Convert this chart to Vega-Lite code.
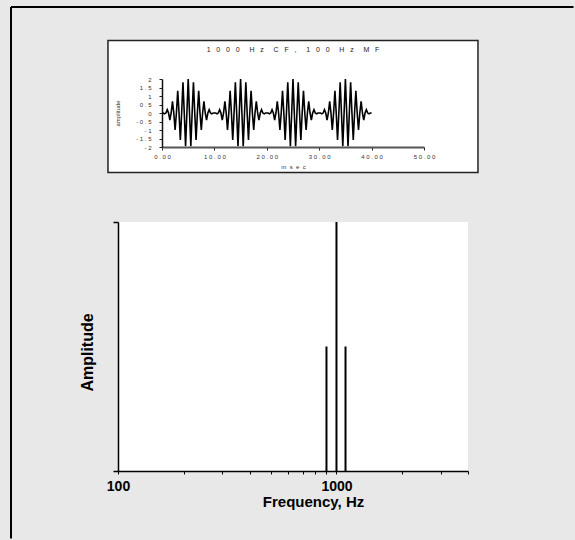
{
  "$schema": "https://vega.github.io/schema/vega-lite/v6.json",
  "background": "#e8e8e8",
  "padding": {"left": 10, "top": 6, "right": 0, "bottom": 0},
  "bounds": "flush",
  "center": true,
  "spacing": 75,
  "config": {"font": "Liberation Sans", "view": {"stroke": null}},
  "datasets": {
    "wave": [
      {"t":0,"a":0},{"t":0.25,"a":0},{"t":0.5,"a":-0.0489},{"t":0.75,"a":0},{"t":1,"a":0.191},{"t":1.25,"a":0},{"t":1.5,"a":-0.4122},{"t":1.75,"a":0},{"t":2,"a":0.691},{"t":2.25,"a":0},{"t":2.5,"a":-1},{"t":2.75,"a":0},{"t":3,"a":1.309},{"t":3.25,"a":0},{"t":3.5,"a":-1.5878},{"t":3.75,"a":0},{"t":4,"a":1.809},{"t":4.25,"a":0},{"t":4.5,"a":-1.9511},{"t":4.75,"a":0},{"t":5,"a":2},{"t":5.25,"a":0},{"t":5.5,"a":-1.9511},{"t":5.75,"a":0},{"t":6,"a":1.809},{"t":6.25,"a":0},{"t":6.5,"a":-1.5878},{"t":6.75,"a":0},{"t":7,"a":1.309},{"t":7.25,"a":0},{"t":7.5,"a":-1},{"t":7.75,"a":0},{"t":8,"a":0.691},{"t":8.25,"a":0},{"t":8.5,"a":-0.4122},{"t":8.75,"a":0},{"t":9,"a":0.191},{"t":9.25,"a":0},{"t":9.5,"a":-0.0489},{"t":9.75,"a":0},
      {"t":10,"a":0},{"t":10.25,"a":0},{"t":10.5,"a":-0.0489},{"t":10.75,"a":0},{"t":11,"a":0.191},{"t":11.25,"a":0},{"t":11.5,"a":-0.4122},{"t":11.75,"a":0},{"t":12,"a":0.691},{"t":12.25,"a":0},{"t":12.5,"a":-1},{"t":12.75,"a":0},{"t":13,"a":1.309},{"t":13.25,"a":0},{"t":13.5,"a":-1.5878},{"t":13.75,"a":0},{"t":14,"a":1.809},{"t":14.25,"a":0},{"t":14.5,"a":-1.9511},{"t":14.75,"a":0},{"t":15,"a":2},{"t":15.25,"a":0},{"t":15.5,"a":-1.9511},{"t":15.75,"a":0},{"t":16,"a":1.809},{"t":16.25,"a":0},{"t":16.5,"a":-1.5878},{"t":16.75,"a":0},{"t":17,"a":1.309},{"t":17.25,"a":0},{"t":17.5,"a":-1},{"t":17.75,"a":0},{"t":18,"a":0.691},{"t":18.25,"a":0},{"t":18.5,"a":-0.4122},{"t":18.75,"a":0},{"t":19,"a":0.191},{"t":19.25,"a":0},{"t":19.5,"a":-0.0489},{"t":19.75,"a":0},
      {"t":20,"a":0},{"t":20.25,"a":0},{"t":20.5,"a":-0.0489},{"t":20.75,"a":0},{"t":21,"a":0.191},{"t":21.25,"a":0},{"t":21.5,"a":-0.4122},{"t":21.75,"a":0},{"t":22,"a":0.691},{"t":22.25,"a":0},{"t":22.5,"a":-1},{"t":22.75,"a":0},{"t":23,"a":1.309},{"t":23.25,"a":0},{"t":23.5,"a":-1.5878},{"t":23.75,"a":0},{"t":24,"a":1.809},{"t":24.25,"a":0},{"t":24.5,"a":-1.9511},{"t":24.75,"a":0},{"t":25,"a":2},{"t":25.25,"a":0},{"t":25.5,"a":-1.9511},{"t":25.75,"a":0},{"t":26,"a":1.809},{"t":26.25,"a":0},{"t":26.5,"a":-1.5878},{"t":26.75,"a":0},{"t":27,"a":1.309},{"t":27.25,"a":0},{"t":27.5,"a":-1},{"t":27.75,"a":0},{"t":28,"a":0.691},{"t":28.25,"a":0},{"t":28.5,"a":-0.4122},{"t":28.75,"a":0},{"t":29,"a":0.191},{"t":29.25,"a":0},{"t":29.5,"a":-0.0489},{"t":29.75,"a":0},
      {"t":30,"a":0},{"t":30.25,"a":0},{"t":30.5,"a":-0.0489},{"t":30.75,"a":0},{"t":31,"a":0.191},{"t":31.25,"a":0},{"t":31.5,"a":-0.4122},{"t":31.75,"a":0},{"t":32,"a":0.691},{"t":32.25,"a":0},{"t":32.5,"a":-1},{"t":32.75,"a":0},{"t":33,"a":1.309},{"t":33.25,"a":0},{"t":33.5,"a":-1.5878},{"t":33.75,"a":0},{"t":34,"a":1.809},{"t":34.25,"a":0},{"t":34.5,"a":-1.9511},{"t":34.75,"a":0},{"t":35,"a":2},{"t":35.25,"a":0},{"t":35.5,"a":-1.9511},{"t":35.75,"a":0},{"t":36,"a":1.809},{"t":36.25,"a":0},{"t":36.5,"a":-1.5878},{"t":36.75,"a":0},{"t":37,"a":1.309},{"t":37.25,"a":0},{"t":37.5,"a":-1},{"t":37.75,"a":0},{"t":38,"a":0.691},{"t":38.25,"a":0},{"t":38.5,"a":-0.4122},{"t":38.75,"a":0},{"t":39,"a":0.191},{"t":39.25,"a":0},{"t":39.5,"a":-0.0489},{"t":39.75,"a":0},
      {"t":40,"a":0}
    ],
    "spec": [
      {"freq": 900, "amp": 0.5},
      {"freq": 1000, "amp": 1},
      {"freq": 1100, "amp": 0.5}
    ]
  },
  "vconcat": [
    {
      "width": 262,
      "height": 68,
      "title": {
        "text": "1\u00a0\u00a0\u00a00\u00a0\u00a0\u00a00\u00a0\u00a0\u00a00\u00a0\u00a0\u00a0\u00a0\u00a0H\u00a0\u00a0\u00a0z\u00a0\u00a0\u00a0\u00a0\u00a0C\u00a0\u00a0\u00a0F\u00a0\u00a0\u00a0,\u00a0\u00a0\u00a0\u00a0\u00a01\u00a0\u00a0\u00a00\u00a0\u00a0\u00a00\u00a0\u00a0\u00a0\u00a0\u00a0H\u00a0\u00a0\u00a0z\u00a0\u00a0\u00a0\u00a0\u00a0M\u00a0\u00a0\u00a0F",
        "fontSize": 7,
        "fontWeight": "normal",
        "color": "#222",
        "anchor": "middle",
        "frame": "group",
        "baseline": "alphabetic",
        "offset": -19
      },
      "layer": [
        {
          "data": {"values": [{}]},
          "mark": {"type": "rect", "fill": "white", "stroke": "#222", "strokeWidth": 1.5},
          "encoding": {
            "x": {
              "datum": -10.31, "type": "quantitative", "title": "m\u00a0\u00a0s\u00a0\u00a0e\u00a0\u00a0c",
              "scale": {"domain": [0, 50], "nice": false, "zero": false},
              "axis": {
                "title": "m\u00a0\u00a0s\u00a0\u00a0e\u00a0\u00a0c",
                "values": [0, 10, 20, 30, 40, 50],
                "labelExpr": "join(split(format(datum.value, '.2f'), ''), ' ')",
                "labelFontSize": 6, "labelColor": "#333", "labelPadding": 3,
                "labelFlush": false, "labelOverlap": false,
                "tickSize": 3, "tickColor": "#222", "tickWidth": 1,
                "domainColor": "#555", "domainWidth": 2,
                "titleFontSize": 6, "titleFontWeight": "normal", "titleColor": "#333", "titlePadding": 4,
                "grid": false, "zindex": 1
              }
            },
            "x2": {"datum": 60.3},
            "y": {
              "datum": -3.5, "type": "quantitative", "title": "amplitude",
              "scale": {"domain": [-2, 2], "nice": false, "zero": false},
              "axis": {
                "title": "amplitude",
                "values": [-2, -1.5, -1, -0.5, 0, 0.5, 1, 1.5, 2],
                "labelExpr": "join(split(datum.value + '', ''), ' ')",
                "labelFontSize": 6, "labelColor": "#333", "labelPadding": 8,
                "labelFlush": false, "labelOverlap": false,
                "tickSize": 3, "tickColor": "#222", "tickWidth": 1,
                "domainColor": "#111", "domainWidth": 1.5,
                "titleFontSize": 6, "titleFontWeight": "normal", "titleColor": "#333", "titlePadding": 15,
                "grid": false, "zindex": 1
              }
            },
            "y2": {"datum": 4.265}
          }
        },
        {
          "data": {"name": "wave"},
          "mark": {"type": "line", "color": "black", "strokeWidth": 1.6, "clip": false},
          "encoding": {
            "x": {
              "field": "t", "type": "quantitative", "title": "m\u00a0\u00a0s\u00a0\u00a0e\u00a0\u00a0c",
              "scale": {"domain": [0, 50], "nice": false, "zero": false},
              "axis": {
                "title": "m\u00a0\u00a0s\u00a0\u00a0e\u00a0\u00a0c",
                "values": [0, 10, 20, 30, 40, 50],
                "labelExpr": "join(split(format(datum.value, '.2f'), ''), ' ')",
                "labelFontSize": 6, "labelColor": "#333", "labelPadding": 3,
                "labelFlush": false, "labelOverlap": false,
                "tickSize": 3, "tickColor": "#222", "tickWidth": 1,
                "domainColor": "#555", "domainWidth": 2,
                "titleFontSize": 6, "titleFontWeight": "normal", "titleColor": "#333", "titlePadding": 4,
                "grid": false, "zindex": 1
              }
            },
            "y": {
              "field": "a", "type": "quantitative", "title": "amplitude",
              "scale": {"domain": [-2, 2], "nice": false, "zero": false},
              "axis": {
                "title": "amplitude",
                "values": [-2, -1.5, -1, -0.5, 0, 0.5, 1, 1.5, 2],
                "labelExpr": "join(split(datum.value + '', ''), ' ')",
                "labelFontSize": 6, "labelColor": "#333", "labelPadding": 8,
                "labelFlush": false, "labelOverlap": false,
                "tickSize": 3, "tickColor": "#222", "tickWidth": 1,
                "domainColor": "#111", "domainWidth": 1.5,
                "titleFontSize": 6, "titleFontWeight": "normal", "titleColor": "#333", "titlePadding": 15,
                "grid": false, "zindex": 1
              }
            }
          }
        }
      ]
    },
    {
      "width": 350,
      "height": 249,
      "view": {"fill": "white", "stroke": null},
      "layer": [
        {
          "data": {"values": [{}]},
          "mark": {"type": "rule", "color": "black", "strokeWidth": 2},
          "encoding": {
            "x": {"datum": 32.38, "type": "quantitative", "scale": {"type": "log", "domain": [100, 4000], "nice": false}},
            "y": {"datum": -0.27108, "type": "quantitative", "scale": {"domain": [0, 1], "nice": false}},
            "y2": {"datum": 1.86345}
          }
        },
        {
          "data": {"values": [{}]},
          "mark": {"type": "rule", "color": "black", "strokeWidth": 2},
          "encoding": {
            "x": {"datum": 32.38, "type": "quantitative", "scale": {"type": "log", "domain": [100, 4000], "nice": false}},
            "x2": {"datum": 12160},
            "y": {"datum": 1.86345, "type": "quantitative", "scale": {"domain": [0, 1], "nice": false}}
          }
        },
        {
          "data": {"name": "spec"},
          "mark": {"type": "rule", "color": "black", "strokeWidth": 2},
          "encoding": {
            "x": {
              "field": "freq", "type": "quantitative", "title": "Frequency, Hz",
              "scale": {"type": "log", "domain": [100, 4000], "nice": false},
              "axis": {
                "title": "Frequency, Hz",
                "values": [100, 200, 300, 400, 500, 600, 700, 800, 900, 1000, 2000, 3000, 4000],
                "labelExpr": "(datum.value == 100 || datum.value == 1000) ? format(datum.value, 'd') : ''",
                "labelFontSize": 14, "labelFontWeight": "bold", "labelColor": "black",
                "labelPadding": 5, "labelFlush": false, "labelOverlap": false, "labelDx": -3,
                "tickSize": 3, "tickColor": "black", "tickWidth": 1,
                "domainColor": "black", "domainWidth": 1.5,
                "titleFontSize": 15, "titleFontWeight": "bold", "titleColor": "black",
                "titleX": 195, "titleY": 23, "titleBaseline": "top",
                "grid": false
              }
            },
            "y": {
              "field": "amp", "type": "quantitative", "title": "Amplitude",
              "scale": {"domain": [0, 1], "nice": false},
              "axis": {
                "title": "Amplitude",
                "values": [0, 1],
                "labels": false,
                "tickSize": 5, "tickColor": "black", "tickWidth": 1.5,
                "domainColor": "black", "domainWidth": 1.5,
                "titleFontSize": 16, "titleFontWeight": "bold", "titleColor": "black",
                "titleX": -23, "titleY": 130, "titleBaseline": "bottom",
                "grid": false
              }
            },
            "y2": {"datum": 0}
          }
        }
      ]
    }
  ]
}
